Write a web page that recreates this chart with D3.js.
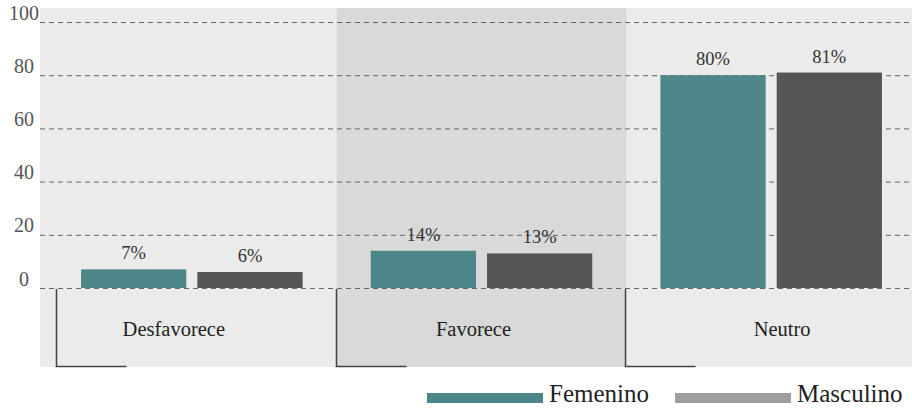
<!DOCTYPE html>
<html><head><meta charset="utf-8">
<script src="https://cdn.jsdelivr.net/npm/d3@7"></script>
<style>body{margin:0;background:#fff}svg{display:block}</style>
</head><body><svg id="c" width="912" height="408" font-family="'Liberation Serif', 'DejaVu Serif', serif"></svg>
<script>
const categories = ["Desfavorece","Favorece","Neutro"];
const seriesNames = ["Femenino","Masculino"];
const femenino = [7,14,80];
const masculino = [6,13,81];
const yTicks = [0,20,40,60,80,100];
const barColors = ["#4d8688","#555555"];
const legendColors = ["#4d8688","#9e9e9e"];

const FONT = "'Liberation Serif', 'DejaVu Serif', serif";
const svg = d3.select("#c");
const W = 912;
const x = d3.scaleBand().domain(categories).range([47, 916]);
const xs = d3.scaleBand().domain(seriesNames).range([0, x.bandwidth()]).paddingInner(0.095).paddingOuter(0.293);
const y = d3.scaleLinear().domain([0,100]).range([288, 22]);

// panel backgrounds
svg.append("rect").attr("x",40).attr("y",8).attr("width",W-40).attr("height",359).attr("fill","#ebebeb");
svg.append("rect").attr("x",x("Favorece")).attr("y",8).attr("width",x.bandwidth()).attr("height",359).attr("fill","#d9d9d9");

// y axis labels
const yAxis = d3.axisLeft(y).tickValues(yTicks).tickSize(0).tickFormat(d3.format("d"));
const ga = svg.append("g").attr("transform","translate(40,0)").call(yAxis);
ga.attr("font-family",FONT);
ga.select(".domain").remove();
ga.selectAll("text").attr("font-size",20).attr("fill","#555").attr("x",-16).attr("text-anchor","middle").attr("dy",-3)
  .style("font-family",FONT);
// gridlines
svg.append("g").selectAll("line").data(yTicks).join("line")
  .attr("x1",40).attr("x2",W).attr("y1",d=>y(d)+0.5).attr("y2",d=>y(d)+0.5)
  .attr("stroke","#666").attr("stroke-width",1).attr("stroke-dasharray","5,4");

// bars
const rows = categories.map((c,i)=>({cat:c, vals:[femenino[i],masculino[i]]}));
const g = svg.append("g");
rows.forEach(r=>{
  r.vals.forEach((v,j)=>{
    const bx = x(r.cat)+xs(seriesNames[j]);
    g.append("rect").attr("x",bx).attr("y",y(v)).attr("width",xs.bandwidth()).attr("height",y(0)-y(v)).attr("fill",barColors[j]);
    g.append("text").attr("x",bx+xs.bandwidth()/2).attr("y",y(v)-10).attr("text-anchor","middle")
      .style("font-family",FONT).attr("font-size",18.5).attr("fill","#333").text(v+"%");
  });
});

// category labels & brackets
const labelShift = [-18, -8, 11];
const cg = svg.append("g");
categories.forEach((c,i)=>{
  const x0 = Math.max(Math.round(x(c)), 57) - 0.5;
  cg.append("path").attr("d",`M${x0},289V366.5H${x0+70}`).attr("fill","none").attr("stroke","#444").attr("stroke-width",1.5);
  cg.append("text").attr("x",x(c)+x.bandwidth()/2+labelShift[i]).attr("y",336).attr("text-anchor","middle")
    .style("font-family",FONT).attr("font-size",20.5).attr("fill","#222").text(c);
});

// legend
const lg = svg.append("g");
const lx = [427, 675];
seriesNames.forEach((s,i)=>{
  lg.append("rect").attr("x",lx[i]).attr("y",393).attr("width",116).attr("height",10).attr("fill",legendColors[i]);
  lg.append("text").attr("x",lx[i]+122).attr("y",402).style("font-family",FONT).attr("font-size",25).attr("fill","#222").text(s);
});
</script></body></html>
